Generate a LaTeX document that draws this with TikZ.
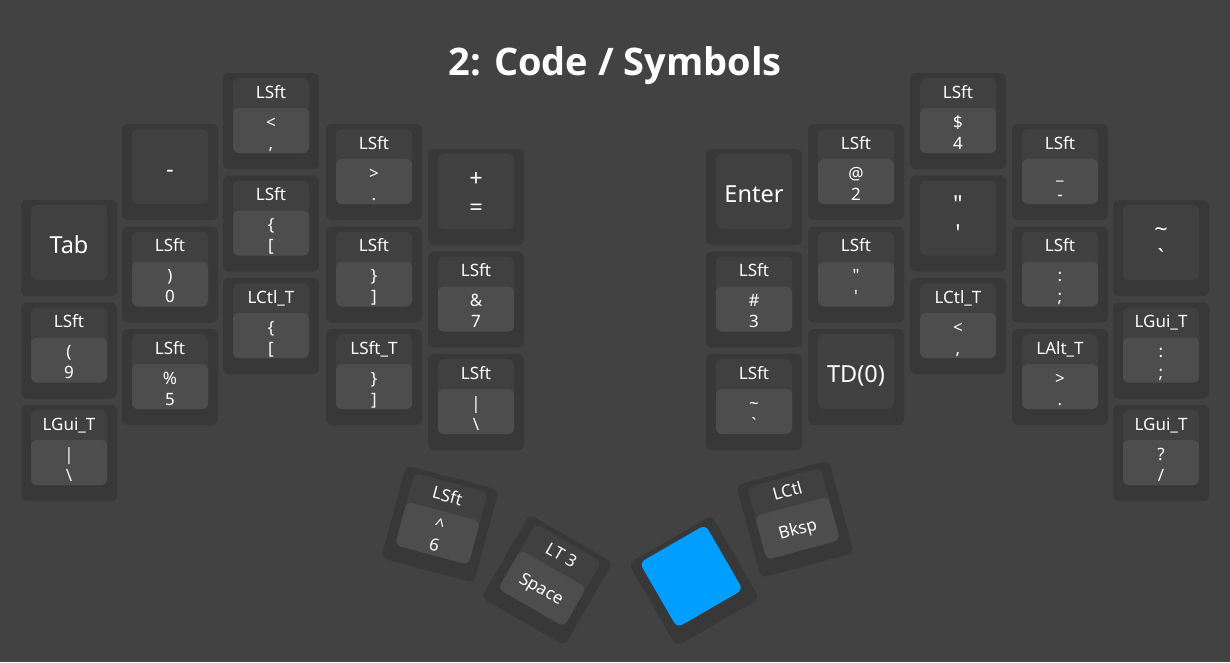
\documentclass[tikz,border=0pt]{standalone}
\usepackage{fontspec}
\setmainfont{Noto Sans}
\newfontfamily\titlefont{Open Sans}
\usepackage{tikz}
\definecolor{boardbg}{RGB}{66,66,66}
\definecolor{keyrim}{RGB}{56,56,56}
\definecolor{keytop}{RGB}{64,64,64}
\definecolor{keytap}{RGB}{77,77,77}
\definecolor{transblue}{RGB}{0,158,255}

% key with hold label and two-line tap label
\newcommand{\holdkey}[7]{%
  \begin{scope}[shift={(#2,#3)},rotate=#4,transform shape]
    \fill[keyrim,rounded corners=6pt] (-48,-48) rectangle (48,48);
    \fill[keytop,rounded corners=6pt] (-38,-43) rectangle (38,32);
    \fill[keytap,rounded corners=6pt] (-38,-13) rectangle (38,32);
    \node[holdlbl] (#1-hold) at (0,-23) {#5};
    \node[taplbl] (#1-tap) at (0,7) {#6};
    \node[taplbl] (#1-shift) at (0,28) {#7};
  \end{scope}}
% key with hold label and one-line tap label
\newcommand{\thumbkey}[6]{%
  \begin{scope}[shift={(#2,#3)},rotate=#4,transform shape]
    \fill[keyrim,rounded corners=6pt] (-48,-48) rectangle (48,48);
    \fill[keytop,rounded corners=6pt] (-38,-43) rectangle (38,32);
    \fill[keytap,rounded corners=6pt] (-38,-13) rectangle (38,32);
    \node[holdlbl] (#1-hold) at (0,-23) {#5};
    \node[taplbl] (#1-tap) at (0,16) {#6};
  \end{scope}}
% key with one big label
\newcommand{\bigkey}[4]{%
  \fill[keyrim,rounded corners=6pt] ($(#2,#3)+(-48,-48)$) rectangle ($(#2,#3)+(48,48)$);
  \fill[keytop,rounded corners=6pt] ($(#2,#3)+(-38,-43)$) rectangle ($(#2,#3)+(38,32)$);
  \node[biglbl] (#1) at ($(#2,#3)+(0,5)$) {#4};}
% key with two big labels
\newcommand{\pairkey}[5]{%
  \fill[keyrim,rounded corners=6pt] ($(#2,#3)+(-48,-48)$) rectangle ($(#2,#3)+(48,48)$);
  \fill[keytop,rounded corners=6pt] ($(#2,#3)+(-38,-43)$) rectangle ($(#2,#3)+(38,32)$);
  \node[biglbl] (#1-shift) at ($(#2,#3)+(0,-11)$) {#4};
  \node[biglbl] (#1) at ($(#2,#3)+(0,18)$) {#5};}
\usetikzlibrary{calc}

\begin{document}
\begin{tikzpicture}[x=1pt,y=-1pt,
    holdlbl/.style={anchor=base,text=white,inner sep=0pt,font=\fontsize{17}{20}\selectfont},
    taplbl/.style={holdlbl},
    biglbl/.style={anchor=base,text=white,inner sep=0pt,font=\fontsize{23.5}{28}\selectfont}]
  \useasboundingbox (0,0) rectangle (1230,662);
  \fill[boardbg] (0,0) rectangle (1230,662);
  \node[anchor=base,text=white,font=\titlefont\bfseries\fontsize{38}{44}\selectfont] (title) at (615,75) {2: Code / Symbols};
  % left half
  \bigkey{tab}{69}{248}{Tab}
  \holdkey{nine}{69}{350.5}{0}{LSft}{(}{9}
  \holdkey{bsl}{69}{453}{0}{LGui\_T}{|}{\textbackslash}
  \bigkey{minus}{170}{172}{-}
  \holdkey{zero}{170}{274.5}{0}{LSft}{)}{0}
  \holdkey{five}{170}{377}{0}{LSft}{\%}{5}
  \holdkey{comma}{271}{121}{0}{LSft}{<}{,}
  \holdkey{lbrc}{271}{223.5}{0}{LSft}{\{}{[}
  \holdkey{lbrt}{271}{326}{0}{LCtl\_T}{\{}{[}
  \holdkey{dot}{374}{172}{0}{LSft}{>}{.}
  \holdkey{rbrc}{374}{274.5}{0}{LSft}{\}}{]}
  \holdkey{rbrt}{374}{377}{0}{LSft\_T}{\}}{]}
  \pairkey{equal}{476}{197}{+}{=}
  \holdkey{seven}{476}{299.5}{0}{LSft}{\&}{7}
  \holdkey{pipe}{476}{402}{0}{LSft}{|}{\textbackslash}
  % right half
  \bigkey{enter}{754}{197}{Enter}
  \holdkey{three}{754}{299.5}{0}{LSft}{\#}{3}
  \holdkey{grave}{754}{402}{0}{LSft}{\textasciitilde}{\textasciigrave}
  \holdkey{two}{856}{172}{0}{LSft}{@}{2}
  \holdkey{quot}{856}{274.5}{0}{LSft}{\textquotedbl}{\textquotesingle}
  \bigkey{tdzero}{856}{377}{TD(0)}
  \holdkey{four}{958}{121}{0}{LSft}{\$}{4}
  \pairkey{apos}{958}{223.5}{\textquotedbl}{\textquotesingle}
  \holdkey{lt}{958}{326}{0}{LCtl\_T}{<}{,}
  \holdkey{unds}{1060}{172}{0}{LSft}{\_}{-}
  \holdkey{scln}{1060}{274.5}{0}{LSft}{:}{;}
  \holdkey{gt}{1060}{377}{0}{LAlt\_T}{>}{.}
  \pairkey{tild}{1161}{248}{\textasciitilde}{\textasciigrave}
  \holdkey{colon}{1161}{350.5}{0}{LGui\_T}{:}{;}
  \holdkey{slash}{1161}{453}{0}{LGui\_T}{?}{/}
  % thumb cluster
  \holdkey{caret}{440}{524}{-15}{LSft}{\textasciicircum}{6}
  \thumbkey{space}{547}{580}{-30}{LT 3}{Space}
  \begin{scope}[shift={(694,581)},rotate=30]
    \fill[keyrim,rounded corners=6pt] (-48,-48) rectangle (48,48);
    \fill[transblue,rounded corners=6pt] (-38,-43) rectangle (38,32);
  \end{scope}
  \thumbkey{bksp}{795}{519}{15}{LCtl}{Bksp}
\end{tikzpicture}
\end{document}
